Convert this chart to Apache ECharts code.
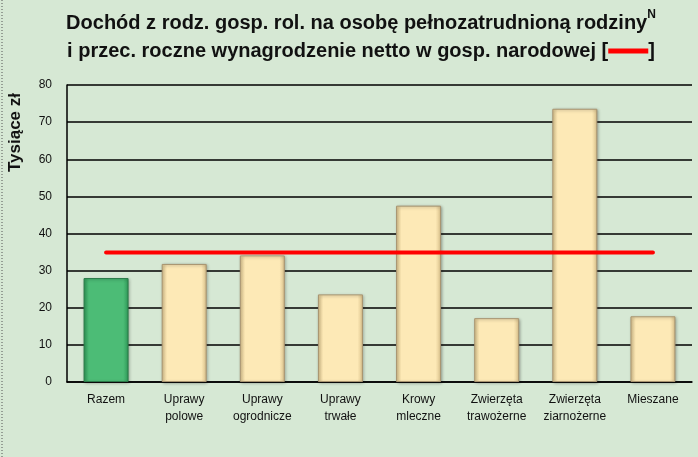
<!DOCTYPE html>
<html><head><meta charset="utf-8">
<script src="https://cdn.jsdelivr.net/npm/echarts@6/dist/echarts.min.js"></script>
<style>html,body{margin:0;padding:0;background:#d6e8d4;}#c{width:698px;height:457px;}</style>
</head><body><div id="c"></div>
<script>
const categories = ['Razem','Uprawy\npolowe','Uprawy\nogrodnicze','Uprawy\ntrwałe','Krowy\nmleczne','Zwierzęta\ntrawożerne','Zwierzęta\nziarnożerne','Mieszane'];
const income = [28.0, 31.8, 34.1, 23.6, 47.5, 17.2, 73.6, 17.7];
const wage = [34.9, 34.9, 34.9, 34.9, 34.9, 34.9, 34.9, 34.9];
const yTicks = [0, 10, 20, 30, 40, 50, 60, 70, 80];

const green = {type:'linear',x:0,y:0,x2:1,y2:0,colorStops:[{offset:0,color:'#2f9a58'},{offset:0.12,color:'#4cbc76'},{offset:0.88,color:'#4cbc76'},{offset:1,color:'#2f9a58'}]};
const cream = {type:'linear',x:0,y:0,x2:1,y2:0,colorStops:[{offset:0,color:'#dcc58f'},{offset:0.12,color:'#fde9b6'},{offset:0.88,color:'#fde9b6'},{offset:1,color:'#d9c08a'}]};

const chart = echarts.init(document.getElementById('c'));
chart.setOption({
  backgroundColor: '#d6e8d4',
  animation: false,
  title: {
    text: '{t|Dochód z rodz. gosp. rol. na osobę pełnozatrudnioną rodziny}{s|N}\n{t|i przec. roczne wynagrodzenie netto w gosp. narodowej [}{r| }{t|]}',
    left: 356, textAlign: 'center', top: 4,
    textStyle: {
      rich: {
        t: {fontFamily: 'Liberation Sans', fontWeight: 'bold', fontSize: 20, color: '#111', lineHeight: 28},
        s: {fontFamily: 'Liberation Sans', fontWeight: 'bold', fontSize: 12, color: '#111', verticalAlign: 'top', lineHeight: 28, padding:[0,0,8,0]},
        r: {width: 40, height: 5, backgroundColor: '#ff0000', fontSize: 1, verticalAlign: 'middle'}
      }
    }
  },
  graphic: [
    {type: 'text', left: 7, top: 93, rotation: Math.PI/2, style: {text: 'Tysiące zł', font: 'bold 17px "Liberation Sans"', fill: '#111'}},
    {type: 'line', shape: {x1: 2, y1: 0, x2: 2, y2: 457}, style: {stroke: '#555', lineWidth: 1, lineDash: [1, 2]}}
  ],
  grid: {left: 67, right: 6, top: 85, bottom: 75},
  xAxis: {
    type: 'category', data: categories, boundaryGap: true,
    axisLine: {lineStyle: {color: '#000', width: 1.5}},
    axisTick: {show: false},
    axisLabel: {color: '#111', fontFamily: 'Liberation Sans', fontSize: 12, lineHeight: 17, margin: 9, interval: 0}
  },
  yAxis: {
    type: 'value', min: 0, max: 80, interval: 10,
    axisLine: {show: true, lineStyle: {color: '#000', width: 1.5}},
    axisTick: {show: false},
    splitLine: {lineStyle: {color: '#000', width: 1.5}},
    axisLabel: {color: '#111', fontFamily: 'Liberation Sans', fontSize: 12, margin: 15,
      formatter: v => yTicks.includes(v) ? String(v) : ''}
  },
  series: [
    {
      type: 'bar', barWidth: 45,
      data: income.map((v, i) => ({value: v, itemStyle: {color: i === 0 ? green : cream, borderColor: i === 0 ? '#2a7a48' : '#a89470'}})),
      itemStyle: {borderWidth: 1, shadowColor: 'rgba(0,0,0,0.3)', shadowBlur: 3, shadowOffsetX: 1, shadowOffsetY: 1}
    },
    {
      type: 'line', data: wage, symbol: 'none', z: 5,
      lineStyle: {color: '#ff0000', width: 4, cap: 'round'}
    }
  ]
});
</script></body></html>
